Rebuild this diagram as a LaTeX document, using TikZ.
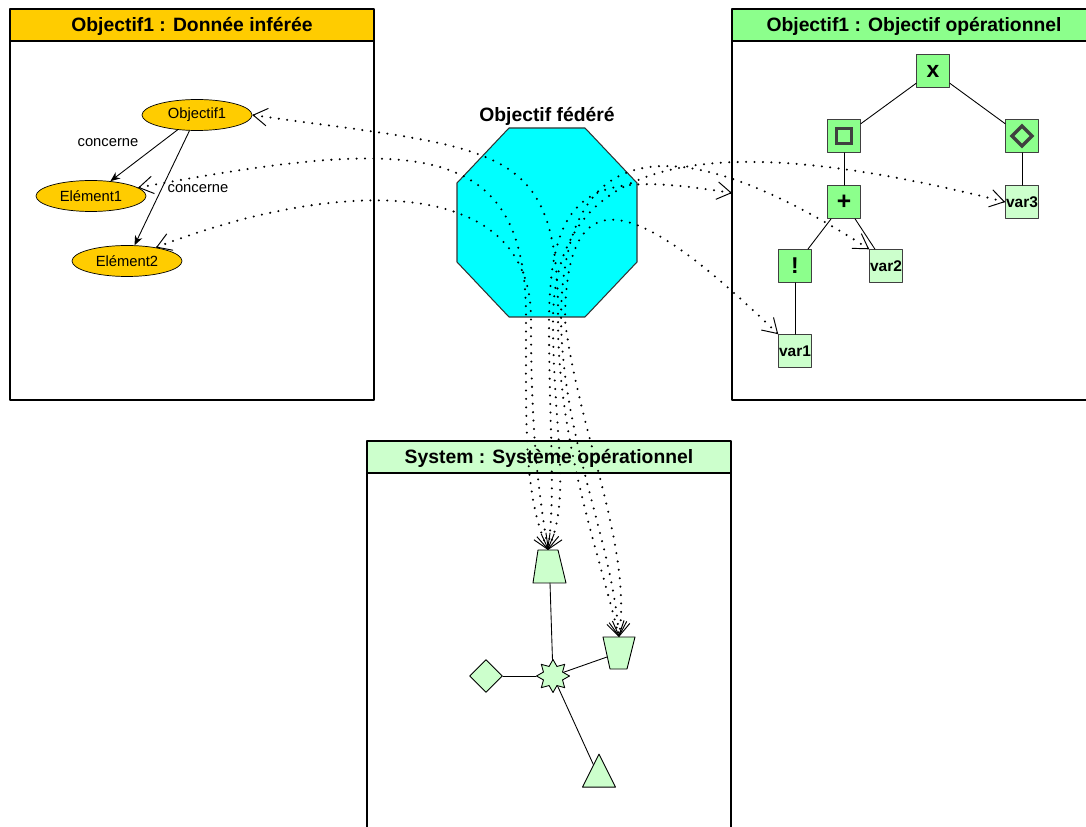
\documentclass[tikz,border=0pt]{standalone}
\usepackage{fontspec}
\setmainfont{Liberation Sans}
\usepackage{tikz}
\usetikzlibrary{shapes.geometric}
\usetikzlibrary{arrows.meta}
\definecolor{ffccqq}{rgb}{1.,0.8,0.}
\definecolor{88ff88}{rgb}{0.55,1.,0.55}
\definecolor{ccffcc}{rgb}{0.8,1.,0.8}
\definecolor{qqffff}{rgb}{0.,1.,1.}
\tikzstyle{titre}=[font=\fontsize{11}{13}\selectfont\bfseries]
\tikzstyle{donnee}=[ellipse,draw,fill=ffccqq,inner sep=0pt,minimum width=2.2cm,minimum height=0.62cm,font=\fontsize{8.4}{10}\selectfont]
\tikzstyle{opbox}=[rectangle,draw=black!75,fill=88ff88,minimum size=0.66cm,inner sep=0pt,font=\fontsize{12}{12}\selectfont\bfseries]
\tikzstyle{varbox}=[opbox,fill=ccffcc,font=\fontsize{8.8}{10}\selectfont\bfseries]
\tikzstyle{sysel}=[draw,fill=ccffcc,inner sep=0pt,line width=0.5pt]
\tikzstyle{lien}=[<->,line width=1.3pt,dash pattern=on 0pt off 4.8pt]

\begin{document}
\begin{tikzpicture}[line cap=round,line join=round,x=0.02cm,y=-0.02cm,>={Straight Barb[length=8pt,width=10pt,line width=0.55pt]}]
\useasboundingbox (0,0) rectangle (1086,827);
\clip (0,0) rectangle (1086,827);
% cadres
\draw [line width=0.6pt,fill=ffccqq] (10,9) rectangle (374,41);
\draw [line width=0.6pt] (10,41) rectangle (374,400);
\draw [line width=0.6pt,fill=88ff88] (732,9) rectangle (1100,41);
\draw [line width=0.6pt] (732,41) rectangle (1100,400);
\draw [line width=0.6pt,fill=ccffcc] (367,441) rectangle (731,473);
\draw [line width=0.6pt] (367,473) rectangle (731,840);
\node [titre] (tdon) at (192,26) {Objectif1 : Donnée inférée};
\node [titre] (top) at (914,26) {Objectif1 : Objectif opérationnel};
\node [titre] (tsys) at (549,458) {System : Système opérationnel};
% objectif federe
\draw [line width=0.6pt,draw=black!80,fill=qqffff] (509,128) -- (585,128) -- (637,183) -- (637,262) -- (585,317) -- (509,317) -- (457,262) -- (457,183) -- cycle;
\node [titre] (fed) at (547,116) {Objectif fédéré};
% donnee inferee
\node [donnee] (obj) at (197,115) {Objectif1};
\node [donnee] (el1) at (91,196) {Elément1};
\node [donnee] (el2) at (127,261) {Elément2};
\draw [-{Stealth[length=5.5pt,width=4.5pt]},line width=0.5pt] (obj) -- (el1);
\draw [-{Stealth[length=5.5pt,width=4.5pt]},line width=0.5pt] (obj) -- (el2);
\node [font=\fontsize{8.4}{10}\selectfont] (c1) at (108,143) {concerne};
\node [font=\fontsize{8.4}{10}\selectfont] (c2) at (198,189) {concerne};
% objectif operationnel
\node [opbox,font=\fontsize{13}{13}\selectfont\bfseries] (et) at (933,71) {x};
\node [opbox,path picture={\draw[line width=2pt,line join=miter] ([shift={(-0.15cm,-0.15cm)}]path picture bounding box.center) rectangle ([shift={(0.15cm,0.15cm)}]path picture bounding box.center);}] (tj) at (844,136) {};
\node [opbox,path picture={\draw[line width=2pt,line join=miter] ([shift={(-0.2cm,0cm)}]path picture bounding box.center) -- ([shift={(0cm,0.2cm)}]path picture bounding box.center) -- ([shift={(0.2cm,0cm)}]path picture bounding box.center) -- ([shift={(0cm,-0.2cm)}]path picture bounding box.center) -- cycle;}] (ev) at (1022,136) {};
\node [opbox,font=\fontsize{14}{14}\selectfont\bfseries] (plus) at (844,202) {+};
\node [opbox,font=\fontsize{13}{13}\selectfont\bfseries] (non) at (795,266) {!};
\node [varbox] (var1) at (795,351) {var1};
\node [varbox] (var2) at (886,266) {var2};
\node [varbox] (var3) at (1022,202) {var3};
\draw [line width=0.5pt] (et) -- (tj);
\draw [line width=0.5pt] (et) -- (ev);
\draw [line width=0.5pt] (tj) -- (plus);
\draw [line width=0.5pt] (ev) -- (var3);
\draw [line width=0.5pt] (plus) -- (non);
\draw [line width=0.5pt] (plus) -- (var2);
\draw [line width=0.5pt] (non) -- (var1);
% systeme
\draw [sysel] (538,550) -- (558,550) -- (566,583) -- (550,583) coordinate (traps) -- (533,583) -- cycle;
\coordinate (trapn) at (548,550);
\draw [sysel] (603,637) -- (635,637) -- (627,669) -- (610,669) -- cycle;
\coordinate (invtrapn) at (619,637);
\coordinate (invtrapw) at (607,657);
\node [sysel,star,star points=8,star point ratio=1.6,minimum size=0.66cm] (etoile) at (553,676) {};
\node [sysel,diamond,minimum width=0.66cm,minimum height=0.66cm] (losange) at (486,676) {};
\node [sysel,isosceles triangle,isosceles triangle stretches,shape border rotate=90,minimum width=0.66cm,minimum height=0.66cm,anchor=apex] (triangle) at (599,753) {};
\draw [line width=0.5pt] (traps) -- (etoile);
\draw [line width=0.5pt] (etoile) -- (invtrapw);
\draw [line width=0.5pt] (losange) -- (etoile);
\draw [line width=0.5pt] (etoile) -- (triangle);
% liens federes
\coordinate (opin) at (732,193);
\draw [lien] (el1.10) .. controls (420,135) and (527,140) .. (526,320) .. controls (526,430) and (524,495) .. (trapn);
\draw [lien] (el2.25) .. controls (330,180) and (532,170) .. (531,320) .. controls (531,430) and (538,490) .. (trapn);
\draw [lien] (opin) .. controls (600,172) and (550,180) .. (549,320) .. controls (549,430) and (556,490) .. (trapn);
\draw [lien] (var3.west) .. controls (760,140) and (554,130) .. (553,320) .. controls (553,430) and (572,495) .. (trapn);
\draw [lien] (obj.east) .. controls (500,150) and (559,140) .. (558,320) .. controls (558,440) and (598,550) .. (invtrapn);
\draw [lien] (var2.north west) .. controls (700,140) and (562,115) .. (561,320) .. controls (563,440) and (612,540) .. (invtrapn);
\draw [lien] (var1.north west) .. controls (640,200) and (566,170) .. (565,320) .. controls (578,430) and (632,545) .. (invtrapn);
\end{tikzpicture}
\end{document}
